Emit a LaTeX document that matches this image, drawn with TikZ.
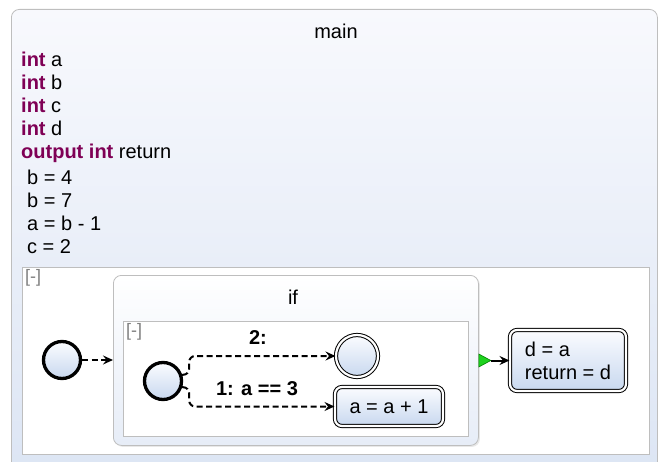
\documentclass[tikz,border=0pt]{standalone}
\usepackage{fontspec}
\setmainfont{Liberation Sans}
\usetikzlibrary{arrows.meta, shadows}

\definecolor{kwred}{HTML}{7F0055}
\definecolor{paneltop}{HTML}{F8F9FD}
\definecolor{panelbot}{HTML}{DCE5F4}
\definecolor{statetop}{HTML}{FBFCFF}
\definecolor{statebot}{HTML}{C8D8EF}
\definecolor{regionline}{HTML}{BEBEBE}
\definecolor{exitgreen}{HTML}{1ED21E}

\newcommand{\kw}[1]{\textcolor{kwred}{\textbf{#1}}}

\tikzset{
    every node/.style={font=\fontsize{20}{23}\selectfont},
    panel/.style={draw=regionline, line width=0.8pt, rounded corners=8pt,
        top color=paneltop, bottom color=panelbot, anchor=north west, inner sep=0pt},
    region/.style={draw=regionline, line width=1.2pt, fill=white, anchor=north west, inner sep=0pt},
    fold/.style={text=gray, font=\fontsize{18}{18}\selectfont, anchor=north west, inner sep=0pt},
    initstate/.style={circle, draw, line width=3.3pt, top color=statetop, bottom color=statebot,
        minimum size=37pt, inner sep=0pt},
    finalstate/.style={circle, draw, line width=1pt, double=white, double distance=2.2pt,
        top color=statetop, bottom color=statebot, minimum size=42pt, inner sep=0pt},
    action/.style={draw, line width=1pt, double=white, double distance=2.2pt, rounded corners=7pt,
        top color=statetop, bottom color=statebot, align=left, inner sep=0pt},
    trans/.style={line width=2pt, dash pattern=on 6pt off 3.5pt,
        -{Stealth[length=10pt, width=9pt, inset=3.5pt]}},
    guard/.style={font=\bfseries\fontsize{20}{23}\selectfont, inner sep=0pt},
}

\begin{document}
\begin{tikzpicture}[x=1pt, y=-1pt]
    \clip (0,0) rectangle (658,462);

    % main state with its declarations
    \node[panel, minimum width=646pt, minimum height=470pt] (main) at (11,9) {};
    \node (maintitle) at (336,31) {main};
    \node[align=left, anchor=north west, inner sep=0pt] (decls) at (21,52) {
        \kw{int} a\\
        \kw{int} b\\
        \kw{int} c\\
        \kw{int} d\\
        \kw{output int} return
    };
    \node[align=left, anchor=north west, inner sep=0pt] (entry) at (27,170) {
        b = 4\\
        b = 7\\
        a = b - 1\\
        c = 2
    };

    \node[region, minimum width=627pt, minimum height=187pt] (mainregion) at (22,267) {};
    \node[fold] (mainfold) at (25,269) {[-]};

    % the if state and its region
    \node[panel, minimum width=365pt, minimum height=170pt,
        top color=white, bottom color=panelbot!70,
        drop shadow={opacity=0.18, shadow xshift=1.5pt, shadow yshift=-1.5pt}] (ifstate) at (113,275) {};
    \node (iftitle) at (293,297) {if};
    \node[region, minimum width=345pt, minimum height=115pt] (ifregion) at (123,321) {};
    \node[fold] (iffold) at (126,323) {[-]};

    % states
    \node[initstate] (init1) at (62,360) {};
    \node[initstate] (init2) at (163,381) {};
    \node[finalstate] (final) at (357,356) {};
    \node[action, minimum width=108pt, minimum height=39pt] (incr) at (389,406.5) {a = a + 1};
    \node[action, minimum width=116pt, minimum height=61pt] (dstate) at (568,360.5) {
        d = a\\
        return = d
    };

    % transitions
    \draw[trans] (init1.east) -- (init1 -| ifstate.west);
    \draw[trans, rounded corners=6pt] (init2.18) -- ++(7,0) |- (final);
    \draw[trans, rounded corners=6pt] (init2.-18) -- ++(7,0) |- (incr);
    \node[guard] (guard2) at (258,338) {2:};
    \node[guard] (guard1) at (257,389) {1: a == 3};

    % exit of the if state
    \coordinate (ifexit) at (ifstate.east |- dstate.west);
    \filldraw[fill=exitgreen, draw=green!50!black, line width=0.6pt]
        (ifexit) ++(0,-6.5) -- ++(12,6.5) -- ++(-12,6.5) -- cycle;
    \draw[line width=2pt, -{Stealth[length=10pt, width=9pt, inset=3.5pt]}]
        ([xshift=12pt]ifexit) -- (dstate);
\end{tikzpicture}
\end{document}
